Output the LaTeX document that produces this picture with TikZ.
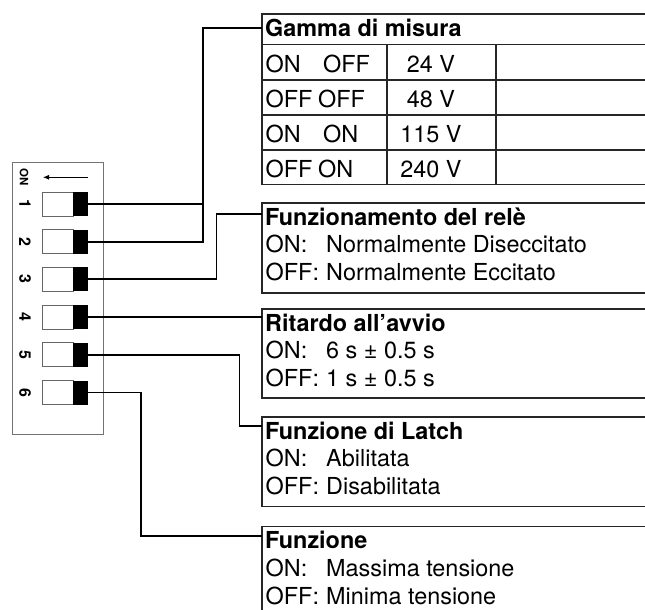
\documentclass[tikz,border=0pt]{standalone}
\usepackage{fontspec}
\setmainfont{TeX Gyre Heros}
\usetikzlibrary{arrows.meta}

\begin{document}
\begin{tikzpicture}[x=1pt,y=-1pt,
  wire/.style={draw=black,line width=1.9pt},
  frame/.style={draw=black!85,line width=1.1pt},
  panel/.style={draw=black!55,line width=0.9pt},
  swbody/.style={draw=black!60,line width=0.8pt,fill=white,minimum width=31pt,minimum height=24pt,inner sep=0pt,outer sep=0pt},
  swknob/.style={fill=black,minimum width=15pt,minimum height=24pt,inner sep=0pt,outer sep=0pt},
  tx/.style={anchor=base west,inner sep=0pt,font=\fontsize{23.4}{28}\selectfont},
  hd/.style={tx,font=\fontsize{23.4}{28}\selectfont\bfseries},
  val/.style={tx,anchor=base},
  num/.style={inner sep=0pt,rotate=-90,font=\fontsize{16}{16}\selectfont\bfseries},
  onlabel/.style={inner sep=0pt,rotate=-90,font=\fontsize{11.5}{12}\selectfont\bfseries},
]
\useasboundingbox (0,0) rectangle (645,610);

% DIP switch housing
\draw[panel] (12.5,162.5) rectangle (103,434);
\node[onlabel] (onmark) at (24,177.5) {ON};
\coordinate (arrS) at (88,177.3);
\coordinate (arrE) at (43,177.3);
\draw[line width=0.8pt,-{Latex[length=6pt,width=5pt]}] (arrS) -- (arrE);

% the six switches with their numbers
\foreach \i/\c in {1/204,2/241.7,3/279.4,4/317.1,5/354.8,6/392.5}{
  \node[swbody] (body\i) at (57.5,\c) {};
  \node[swknob] (sw\i) at (80.5,\c) {};
  \node[num] (n\i) at (25,\c) {\i};
}

% box 1: measuring range table
\draw[frame] (645,14) -- (262,14) -- (262,184.5) -- (645,184.5);
\draw[frame] (262,44.5) -- (645,44.5);
\draw[frame] (262,80) -- (645,80);
\draw[frame] (262,115) -- (645,115);
\draw[frame] (262,150) -- (645,150);
\draw[frame] (387,44.5) -- (387,184.5);
\draw[frame] (496,44.5) -- (496,184.5);
\node[hd] (h1) at (265,36.5) {Gamma di misura};
\node[tx] (r1a) at (265.5,72.5) {ON};
\node[tx] (r1b) at (323,72.5) {OFF};
\node[val] (r1v) at (431,72.5) {24 V};
\node[tx] (r2a) at (265.5,107.5) {OFF};
\node[tx] (r2b) at (318,107.5) {OFF};
\node[val] (r2v) at (431,107.5) {48 V};
\node[tx] (r3a) at (265.5,142.5) {ON};
\node[tx] (r3b) at (323,142.5) {ON};
\node[val] (r3v) at (431,142.5) {115 V};
\node[tx] (r4a) at (265.5,177) {OFF};
\node[tx] (r4b) at (318,177) {ON};
\node[val] (r4v) at (431,177) {240 V};

% box 2: relay operation
\draw[frame] (645,203) -- (262,203) -- (262,293) -- (645,293);
\node[hd] (h2) at (265,225) {Funzionamento del relè};
\node[tx] (b2on) at (265.5,252.5) {ON:};
\node[tx] (b2onv) at (326,252.5) {Normalmente Diseccitato};
\node[tx] (b2off) at (265.5,280.5) {OFF:};
\node[tx] (b2offv) at (326,280.5) {Normalmente Eccitato};

% box 3: start-up delay
\draw[frame] (645,309) -- (262,309) -- (262,398) -- (645,398);
\node[hd] (h3) at (265,331) {Ritardo all’avvio};
\node[tx] (b3on) at (265.5,358.5) {ON:};
\node[tx] (b3onv) at (326,358.5) {6 s ± 0.5 s};
\node[tx] (b3off) at (265.5,386.5) {OFF:};
\node[tx] (b3offv) at (326,386.5) {1 s ± 0.5 s};

% box 4: latch function
\draw[frame] (645,417) -- (262,417) -- (262,506.5) -- (645,506.5);
\node[hd] (h4) at (265,439) {Funzione di Latch};
\node[tx] (b4on) at (265.5,466.5) {ON:};
\node[tx] (b4onv) at (326,466.5) {Abilitata};
\node[tx] (b4off) at (265.5,494.5) {OFF:};
\node[tx] (b4offv) at (326,494.5) {Disabilitata};

% box 5: function
\draw[frame] (645,526.5) -- (262,526.5) -- (262,615);
\node[hd] (h5) at (265,548.5) {Funzione};
\node[tx] (b5on) at (265.5,576) {ON:};
\node[tx] (b5onv) at (326,576) {Massima tensione};
\node[tx] (b5off) at (265.5,604) {OFF:};
\node[tx] (b5offv) at (326,604) {Minima tensione};

% connector entry points and bends
\coordinate (in1) at (262,28);
\coordinate (in2) at (262,214);
\coordinate (in3) at (262,317.1);
\coordinate (in4) at (262,426);
\coordinate (in5) at (262,536);
\coordinate (k1) at (203,28);
\coordinate (k3) at (216.5,214);
\coordinate (k5) at (239.5,426);
\coordinate (k6) at (141,536);

% wiring from the switches to the boxes
\draw[wire] (sw2.east) -| (k1) -- (in1);
\draw[wire] (sw1.east) -- (sw1.east -| k1);
\draw[wire] (sw3.east) -| (k3) -- (in2);
\draw[wire] (sw4.east) -- (in3);
\draw[wire] (sw5.east) -| (k5) -- (in4);
\draw[wire] (sw6.east) -| (k6) -- (in5);
\end{tikzpicture}
\end{document}
